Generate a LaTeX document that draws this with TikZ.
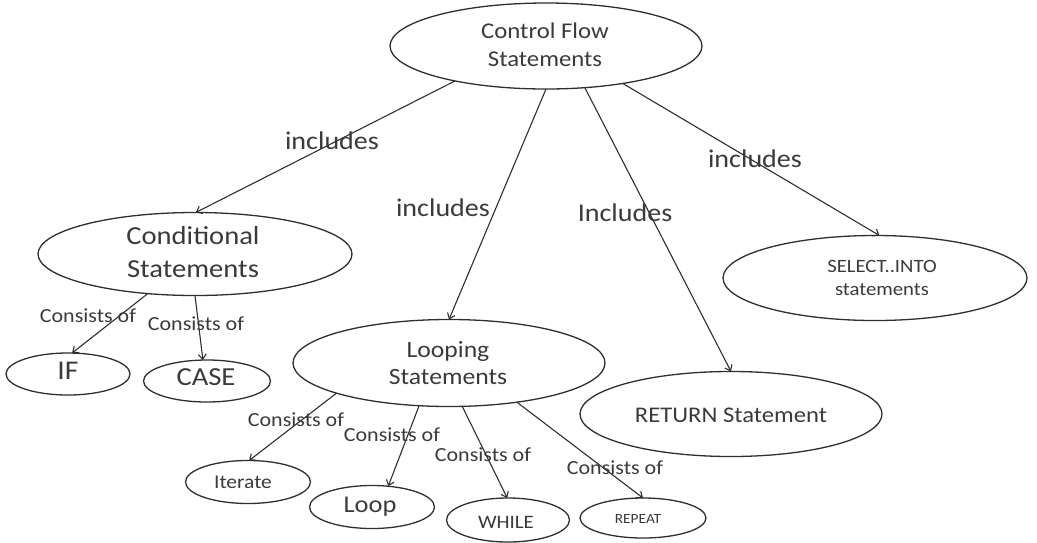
\documentclass[tikz,border=0pt]{standalone}
\usepackage{fontspec}
\setmainfont{Carlito}
\usetikzlibrary{shapes.geometric,arrows.meta}
\definecolor{ink}{HTML}{2E2E2E}
\definecolor{txt}{HTML}{3A3A3A}
% slightly widened, centred text block
\newcommand\hx[1]{\scalebox{1.1}[1]{\begin{tabular}{@{}c@{}}#1\end{tabular}}}
\newcommand\fs[2]{\fontsize{#1}{#2}\selectfont}

\begin{document}
\begin{tikzpicture}[x=1pt,y=-1pt,
  oval/.style={ellipse, draw=ink, line width=1.3pt, inner sep=0pt, outer sep=0pt},
  word/.style={text=txt, inner sep=0pt},
  tag/.style={text=txt, inner sep=0pt},
  link/.style={draw=ink, line width=1.1pt, -{Straight Barb[length=5pt,width=8pt]}},
]
\path[use as bounding box] (0,0) rectangle (1037,542);

% ---- concepts ----
\node[oval, minimum width=312pt, minimum height=86pt] (ctrl) at (546,46) {};
\node[word, font=\fs{22.5}{28}] (ctrl-t) at (545,47) {\hx{Control Flow\\Statements}};

\node[oval, minimum width=314pt, minimum height=83pt] (cond) at (195,254) {};
\node[word, font=\fs{26}{33}] (cond-t) at (193,254) {\hx{Conditional\\Statements}};

\node[oval, minimum width=124pt, minimum height=42pt] (if) at (68,374) {};
\node[word, font=\fs{27}{30}] (if-t) at (68,373) {\hx{IF}};

\node[oval, minimum width=127pt, minimum height=42pt] (case) at (207,381) {};
\node[word, font=\fs{26}{30}] (case-t) at (206,379) {\hx{CASE}};

\node[oval, minimum width=312pt, minimum height=87pt] (loop) at (449,363) {};
\node[word, font=\fs{23.3}{27}] (loop-t) at (448,366) {\hx{Looping\\Statements}};

\node[oval, minimum width=302pt, minimum height=85pt] (ret) at (731,414) {};
\node[word, font=\fs{22.4}{27}] (ret-t) at (731,417) {\hx{RETURN Statement}};

\node[oval, minimum width=304pt, minimum height=85pt] (sel) at (875,278) {};
\node[word, font=\fs{18.8}{23}] (sel-t) at (882,279) {\hx{SELECT..INTO\\statements}};

\node[oval, minimum width=125pt, minimum height=43pt] (iter) at (248,482) {};
\node[word, font=\fs{19.5}{23}] (iter-t) at (243,484) {\hx{Iterate}};

\node[oval, minimum width=125pt, minimum height=43pt] (lp) at (372,507) {};
\node[word, font=\fs{24}{28}] (lp-t) at (370,507) {\hx{Loop}};

\node[oval, minimum width=123pt, minimum height=44pt] (wh) at (508,520) {};
\node[word, font=\fs{19}{23}] (wh-t) at (506,524) {\hx{WHILE}};

\node[oval, minimum width=126pt, minimum height=40pt] (rep) at (643,518) {};
\node[word, font=\fs{14}{17}] (rep-t) at (638,520) {\hx{REPEAT}};

% ---- relations ----
\draw[link] (ctrl.201) -- (cond.89);
\draw[link] (ctrl.270) -- (loop.90);
\draw[link] (ctrl.313) -- (ret.90);
\draw[link] (ctrl.334) -- (sel.84);

\draw[link] (cond.220) -- (if.79);
\draw[link] (cond.270) -- (case.101);

\draw[link] (loop.195) -- (iter.87);
\draw[link] (loop.235) -- (lp.52);
\draw[link] (loop.287) -- (wh.92);
\draw[link] (loop.330) -- (rep.90);

% ---- relation labels ----
\node[tag, font=\fs{25.5}{30}] (inc1) at (332,143) {\hx{includes}};
\node[tag, font=\fs{25.5}{30}] (inc2) at (443,210) {\hx{includes}};
\node[tag, font=\fs{25.5}{30}] (inc3) at (625,215) {\hx{Includes}};
\node[tag, font=\fs{25.5}{30}] (inc4) at (755,161) {\hx{includes}};

\node[tag, font=\fs{20}{24}] (con1) at (88,318) {\hx{Consists of}};
\node[tag, font=\fs{20}{24}] (con2) at (196,326) {\hx{Consists of}};
\node[tag, font=\fs{20}{24}] (con3) at (296,422) {\hx{Consists of}};
\node[tag, font=\fs{20}{24}] (con4) at (392,437) {\hx{Consists of}};
\node[tag, font=\fs{20}{24}] (con5) at (483,457) {\hx{Consists of}};
\node[tag, font=\fs{20}{24}] (con6) at (615,470) {\hx{Consists of}};
\end{tikzpicture}
\end{document}
